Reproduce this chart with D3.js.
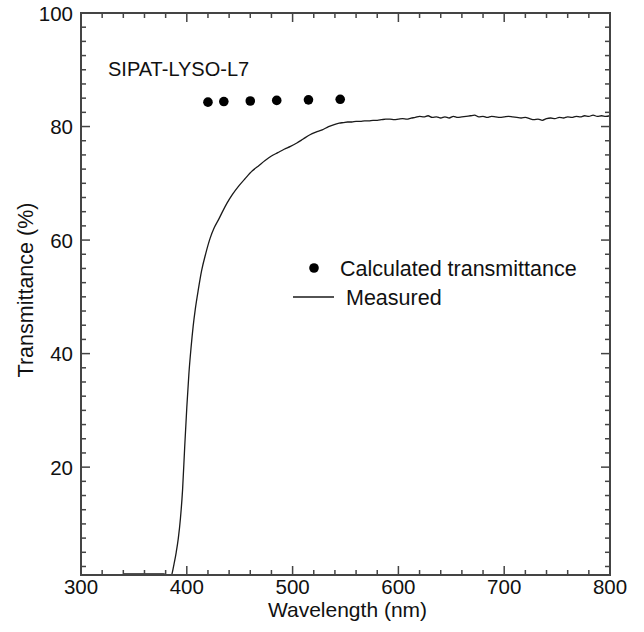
<!DOCTYPE html>
<html>
<head>
<meta charset="utf-8">
<script src="https://cdn.jsdelivr.net/npm/d3@7"></script>
<style>
  html, body { margin: 0; padding: 0; background: #fff; }
  svg { display: block; }
  text { font-family: "Liberation Sans", Arial, Helvetica, sans-serif; fill: #111; }
</style>
</head>
<body>
<svg id="chart" width="644" height="632"></svg>
<script>
// ---- data ----
const sampleLabel = "SIPAT-LYSO-L7";
const calcWavelength = [420, 435, 460, 485, 515, 545];
const calcTransmittance = [84.3, 84.4, 84.5, 84.6, 84.7, 84.8];

const measWavelength = [340, 350, 360, 370, 378, 380, 383, 385, 386, 388, 390, 392, 394, 396, 398, 400, 402, 404, 406, 408, 411, 414, 418, 422, 426, 430, 434, 438, 443, 449, 455, 462, 468, 474, 480, 486, 492, 498, 504, 510, 516, 522, 528, 534,
  540, 544, 548, 552, 556, 560, 564, 568, 572, 576, 580, 584, 588, 592, 596, 600, 604, 608, 612, 616, 620, 624, 628, 632, 636, 640, 644, 648, 652, 656, 660, 664, 668, 672, 676, 680, 684, 688, 692, 696, 700, 704, 708, 712, 716, 720, 724, 728, 732, 736, 740, 744, 748, 752, 756, 760, 764, 768, 772, 776, 780, 784, 788, 792, 796, 800];
const measTransmittance = [1.2, 1.2, 1.2, 1.2, 1.2, 1.1, 0.6, 0.7, 1.2, 3.0, 5.0, 7.5, 11.0, 16.0, 23.5, 30.5, 36.5, 41.0, 44.8, 47.8, 51.4, 54.6, 57.7, 60.3, 62.2, 63.6, 65.1, 66.5, 68.0, 69.5, 70.8, 72.2, 73.1, 74.0, 74.8, 75.4, 76.0, 76.5, 77.1, 77.8, 78.5, 79.0, 79.4, 80.0,
  80.4, 80.6, 80.7, 80.8, 80.8, 80.9, 80.9, 81.0, 81.0, 81.1, 81.1, 81.2, 81.3, 81.3, 81.2, 81.3, 81.4, 81.3, 81.5, 81.6, 81.8, 81.7, 81.9, 81.6, 81.7, 81.5, 81.7, 81.5, 81.8, 81.6, 81.7, 81.8, 81.9, 82.0, 81.7, 81.8, 81.6, 81.8, 81.7, 81.6, 81.7, 81.8, 81.7, 81.6, 81.5, 81.6, 81.4, 81.2, 81.3, 81.1, 81.4, 81.5, 81.4, 81.6, 81.5, 81.7, 81.6, 81.8, 81.7, 81.9, 81.8, 82.0, 81.8, 81.9, 81.8, 81.9];

const xTicks = [300, 400, 500, 600, 700, 800];
const yTicks = [20, 40, 60, 80, 100];
const xDomain = [300, 800];
const yDomain = [1, 100];
const xLabel = "Wavelength (nm)";
const yLabel = "Transmittance (%)";
const legendCalc = "Calculated transmittance";
const legendMeas = "Measured";

// ---- layout ----
const L = 81, R = 610, T = 13, B = 575;
const svg = d3.select("#chart");
const x = d3.scaleLinear().domain(xDomain).range([L, R]);
const y = d3.scaleLinear().domain(yDomain).range([B, T]);

const axisColor = "#444";

svg.append("defs").append("clipPath").attr("id", "clip")
  .append("rect").attr("x", L).attr("y", T).attr("width", R - L).attr("height", B - T);

// measured curve
const pts = measWavelength.map((w, i) => [w, measTransmittance[i]]);
svg.append("path")
  .attr("clip-path", "url(#clip)")
  .attr("d", d3.line().curve(d3.curveMonotoneX).x(d => x(d[0])).y(d => y(d[1]))(pts))
  .attr("fill", "none").attr("stroke", "#1a1a1a").attr("stroke-width", 1.3);

// calculated dots
svg.append("g").selectAll("circle").data(calcWavelength).join("circle")
  .attr("cx", d => x(d)).attr("cy", (d, i) => y(calcTransmittance[i]))
  .attr("r", 4.8).attr("fill", "#000");

// ticks (inward, all four sides)
const xMinor = d3.range(xDomain[0], xDomain[1] + 0.01, 20);
const yMinor = d3.range(2.5, 100.01, 2.5);
const tg = svg.append("g").attr("stroke", axisColor).attr("stroke-width", 1.5);
xMinor.forEach(v => {
  const len = v % 100 === 0 ? 9 : 5;
  tg.append("line").attr("x1", x(v)).attr("x2", x(v)).attr("y1", B).attr("y2", B - len);
  tg.append("line").attr("x1", x(v)).attr("x2", x(v)).attr("y1", T).attr("y2", T + len);
});
yMinor.forEach(v => {
  const len = v % 20 === 0 ? 9 : 5;
  tg.append("line").attr("y1", y(v)).attr("y2", y(v)).attr("x1", L).attr("x2", L + len);
  tg.append("line").attr("y1", y(v)).attr("y2", y(v)).attr("x1", R).attr("x2", R - len);
});

// frame
svg.append("rect").attr("x", L).attr("y", T).attr("width", R - L).attr("height", B - T)
  .attr("fill", "none").attr("stroke", axisColor).attr("stroke-width", 2);

// tick labels
svg.append("g").selectAll("text").data(xTicks).join("text")
  .attr("x", d => x(d)).attr("y", B + 19).attr("text-anchor", "middle")
  .attr("font-size", 20.5).text(d => d);
svg.append("g").selectAll("text").data(yTicks).join("text")
  .attr("x", L - 8).attr("y", d => y(d) + 7.5).attr("text-anchor", "end")
  .attr("font-size", 20.5).text(d => d);

// axis titles
svg.append("text").attr("x", (L + R) / 2 + 2).attr("y", 617).attr("text-anchor", "middle")
  .attr("font-size", 21).text(xLabel);
svg.append("text").attr("transform", `translate(33,290) rotate(-90)`)
  .attr("text-anchor", "middle").attr("font-size", 21.5).text(yLabel);

// sample label
svg.append("text").attr("x", 108).attr("y", 76).attr("font-size", 20).text(sampleLabel);

// legend
svg.append("circle").attr("cx", 314).attr("cy", 268).attr("r", 4.8).attr("fill", "#000");
svg.append("text").attr("x", 340).attr("y", 275.5).attr("font-size", 21.5).text(legendCalc);
svg.append("line").attr("x1", 293).attr("x2", 334).attr("y1", 297).attr("y2", 297)
  .attr("stroke", "#1a1a1a").attr("stroke-width", 1.3);
svg.append("text").attr("x", 346).attr("y", 304.5).attr("font-size", 21.5).text(legendMeas);
</script>
</body>
</html>
